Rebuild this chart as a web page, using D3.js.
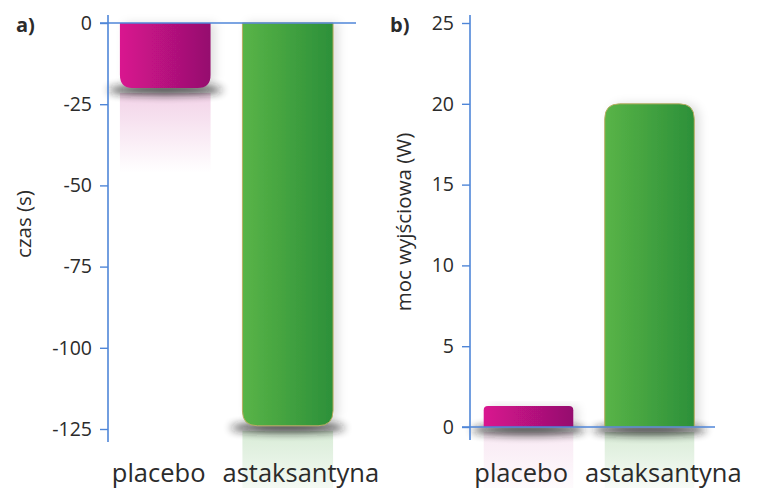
<!DOCTYPE html>
<html>
<head>
<meta charset="utf-8">
<script src="https://cdn.jsdelivr.net/npm/d3@7"></script>
<style>
  html, body { margin: 0; padding: 0; background: #fff; }
  svg { display: block; }
  text { font-family: "Open Sans", "Noto Sans", sans-serif; fill: #2b2b2b; }
</style>
</head>
<body>
<svg id="chart" width="758" height="488"></svg>
<script>
// ---- data ----
const categories = ["placebo", "astaksantyna"];
const timeValues = [-20, -124];          // panel a: czas (s)
const powerValues = [1.3, 20];           // panel b: moc wyjściowa (W)
const timeTicks = [0, -25, -50, -75, -100, -125];
const powerTicks = [0, 5, 10, 15, 20, 25];
const panelLabels = ["a)", "b)"];
const axisTitles = ["czas (s)", "moc wyjściowa (W)"];

// ---- setup ----
const svg = d3.select("#chart");
const defs = svg.append("defs");
const AXIS = "#4f86d8";

function hGrad(id, c1, c2) {
  const g = defs.append("linearGradient").attr("id", id)
    .attr("x1", "0%").attr("x2", "100%").attr("y1", "0%").attr("y2", "0%");
  g.append("stop").attr("offset", "0%").attr("stop-color", c1);
  g.append("stop").attr("offset", "100%").attr("stop-color", c2);
}
hGrad("gMag", "#d9138f", "#95106e");
hGrad("gGrn", "#59b447", "#2c9039");

function vFade(id, color, op) {
  const g = defs.append("linearGradient").attr("id", id)
    .attr("x1", "0%").attr("x2", "0%").attr("y1", "0%").attr("y2", "100%");
  g.append("stop").attr("offset", "0%").attr("stop-color", color).attr("stop-opacity", op);
  g.append("stop").attr("offset", "100%").attr("stop-color", color).attr("stop-opacity", 0);
}
vFade("rMag", "#c0208a", 0.2);
vFade("rGrn", "#4fa846", 0.22);

const blur = defs.append("filter").attr("id", "blur")
  .attr("x", "-50%").attr("y", "-200%").attr("width", "200%").attr("height", "500%");
blur.append("feGaussianBlur").attr("stdDeviation", 4.5);

const side = defs.append("filter").attr("id", "side")
  .attr("x", "-20%").attr("y", "-20%").attr("width", "160%").attr("height", "140%");
side.append("feDropShadow").attr("dx", 5).attr("dy", 0).attr("stdDeviation", 5)
  .attr("flood-color", "#000").attr("flood-opacity", 0.12);

const fills = ["url(#gMag)", "url(#gGrn)"];
const reflects = ["url(#rMag)", "url(#rGrn)"];
const strokes = ["none", "#b9ac62"];
const fmt = d => String(d);   // plain hyphen for negatives

// bar path with rounded corners at the value end
function barPath(x0, w, yBase, yEnd, r) {
  const down = yEnd > yBase;
  const h = Math.abs(yEnd - yBase);
  r = Math.min(r, h / 2, w / 2);
  const p = d3.path();
  if (down) {
    p.moveTo(x0, yBase);
    p.lineTo(x0 + w, yBase);
    p.lineTo(x0 + w, yEnd - r);
    p.quadraticCurveTo(x0 + w, yEnd, x0 + w - r, yEnd);
    p.lineTo(x0 + r, yEnd);
    p.quadraticCurveTo(x0, yEnd, x0, yEnd - r);
    p.closePath();
  } else {
    p.moveTo(x0, yBase);
    p.lineTo(x0, yEnd + r);
    p.quadraticCurveTo(x0, yEnd, x0 + r, yEnd);
    p.lineTo(x0 + w - r, yEnd);
    p.quadraticCurveTo(x0 + w, yEnd, x0 + w, yEnd + r);
    p.lineTo(x0 + w, yBase);
    p.closePath();
  }
  return p.toString();
}

function panel(cfg) {
  const g = svg.append("g");
  const x = d3.scaleBand().domain(categories).range(cfg.xRange)
    .paddingInner(0.26).paddingOuter(0.13);
  const y = d3.scaleLinear().domain(cfg.domain).range(cfg.yRange);
  const y0 = y(0);
  const negative = cfg.values[0] < 0;

  // reflections + shadows
  cfg.values.forEach((v, i) => {
    const bx = x(categories[i]), bw = x.bandwidth();
    const refTop = negative ? y(v) + 5 : y0 + 5;
    const refH = negative ? 80 : 70;
    const op = (!negative && i === 0) ? 0.5 : 1;
    g.append("rect").attr("x", bx).attr("y", refTop).attr("width", bw).attr("height", refH)
      .attr("fill", reflects[i]).attr("opacity", op);
    const sy = negative ? y(v) + 2 : y0 + 3;
    g.append("ellipse").attr("cx", bx + bw / 2).attr("cy", sy)
      .attr("rx", bw / 2 + 12).attr("ry", 4.5)
      .attr("fill", "#1a1a1a").attr("opacity", 0.9).attr("filter", "url(#blur)");
  });

  // bars
  cfg.values.forEach((v, i) => {
    const bx = x(categories[i]), bw = x.bandwidth();
    const h = Math.abs(y(v) - y0);
    g.append("path")
      .attr("d", barPath(bx, bw, y0, y(v), Math.min(15, h * 0.2)))
      .attr("fill", fills[i]).attr("stroke", strokes[i]).attr("stroke-width", 1)
      .attr("filter", "url(#side)");
  });

  // zero line
  g.append("line").attr("x1", cfg.axisX - 8).attr("x2", cfg.zeroEnd)
    .attr("y1", y0).attr("y2", y0).attr("stroke", AXIS).attr("stroke-width", 1.4);

  // y axis
  const ax = g.append("g").attr("transform", `translate(${cfg.axisX},0)`)
    .call(d3.axisLeft(y).tickValues(cfg.ticks).tickSize(8).tickSizeOuter(0).tickPadding(8)
      .tickFormat(fmt));
  ax.select(".domain").remove();
  ax.selectAll(".tick line").attr("stroke", AXIS).attr("stroke-width", 1.4);
  ax.selectAll(".tick text").attr("font-size", 19.5).attr("fill", "#2b2b2b")
    .style("font-family", "'Open Sans', sans-serif");
  const yTop = d3.min(cfg.yRange), yBot = d3.max(cfg.yRange);
  g.append("line").attr("x1", cfg.axisX).attr("x2", cfg.axisX)
    .attr("y1", yTop - 8).attr("y2", yBot + 13).attr("stroke", AXIS).attr("stroke-width", 1.6);

  // category labels
  const gap = (x(categories[0]) + x.bandwidth() + x(categories[1])) / 2;
  g.append("text").attr("x", gap - 21).attr("y", 482).attr("text-anchor", "end")
    .attr("font-size", 25.5).text(categories[0]);
  g.append("text").attr("x", gap - 4).attr("y", 482).attr("text-anchor", "start")
    .attr("font-size", 25.5).text(categories[1]);

  // axis title
  g.append("text").attr("transform", `translate(${cfg.titleX},${cfg.titleY}) rotate(-90)`)
    .attr("text-anchor", "middle").attr("font-size", cfg.titleSize).text(cfg.title);

  // panel label
  g.append("text").attr("x", cfg.labelX).attr("y", 32).attr("font-size", 20)
    .attr("font-weight", "bold").attr("fill", "#1a1a1a").text(cfg.label);
}

panel({
  values: timeValues, ticks: timeTicks, domain: [-125, 0], yRange: [429, 23],
  xRange: [104, 349], axisX: 108, zeroEnd: 356,
  title: axisTitles[0], titleX: 31, titleY: 224, titleSize: 20.5,
  label: panelLabels[0], labelX: 16
});
panel({
  values: powerValues, ticks: powerTicks, domain: [0, 25], yRange: [427, 23],
  xRange: [468, 710], axisX: 470, zeroEnd: 715,
  title: axisTitles[1], titleX: 411, titleY: 222, titleSize: 20.5,
  label: panelLabels[1], labelX: 390
});
</script>
</body>
</html>
